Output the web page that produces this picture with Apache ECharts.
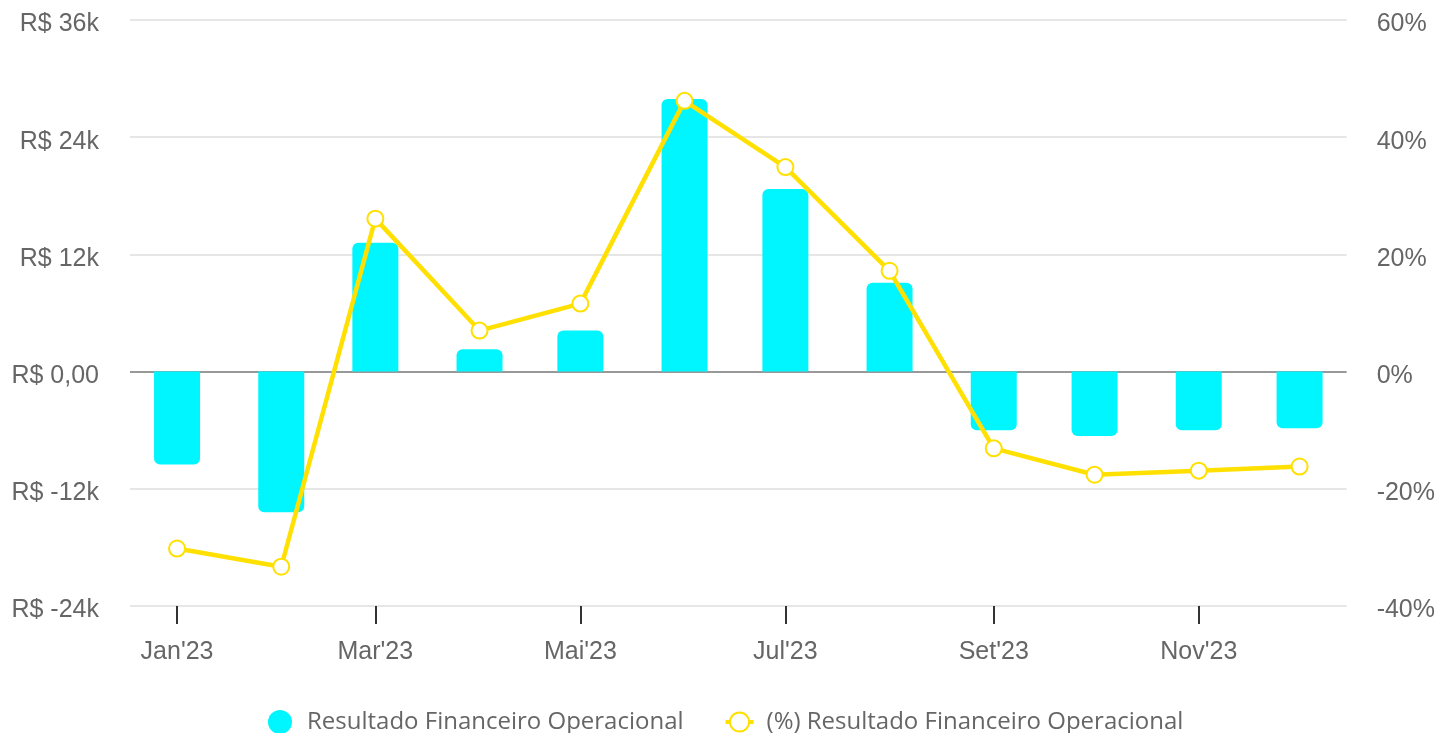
<!DOCTYPE html>
<html>
<head>
<meta charset="utf-8">
<script src="https://cdn.jsdelivr.net/npm/echarts@6/dist/echarts.min.js"></script>
<style>
  html, body { margin: 0; padding: 0; background: #fff; }
  #chart { width: 1438px; height: 733px; }
</style>
</head>
<body>
<div id="chart"></div>
<script>
// datas (inicio de cada mes)
var meses = ['2023-01-01', '2023-02-01', '2023-03-01', '2023-04-01', '2023-05-01', '2023-06-01',
	'2023-07-01', '2023-08-01', '2023-09-01', '2023-10-01', '2023-11-01', '2023-12-01'];
var resultado = [-9500, -14400, 13200, 2300, 4200, 27900, 18700, 9100, -6000, -6600, -6000, -5800];
var percentual = [-30.2, -33.3, 26.1, 7.0, 11.6, 46.2, 34.9, 17.2, -13.1, -17.6, -16.9, -16.2];
var rotulosMes = ['Jan', 'Fev', 'Mar', 'Abr', 'Mai', 'Jun', 'Jul', 'Ago', 'Set', 'Out', 'Nov', 'Dez'];
var marcasX = ['2023-01-01', '2023-03-01', '2023-05-01', '2023-07-01', '2023-09-01', '2023-11-01'];

function toTime(str) {
	var p = str.split('-');
	return new Date(+p[0], +p[1] - 1, +p[2]).getTime();
}

var ResultadoChart = {
	drawChart : function() {
		var barData = [];
		var lineData = [];
		for (var i = 0; i < meses.length; i++) {
			var v = resultado[i];
			barData.push({
				value: [toTime(meses[i]), v],
				itemStyle: { borderRadius: v >= 0 ? [6, 6, 0, 0] : [0, 0, 6, 6] }
			});
			lineData.push([toTime(meses[i]), percentual[i]]);
		}
		var ticks = marcasX.map(toTime);
		var corTexto = '#666666';
		// rotulo um pouco abaixo da linha, como no original
		var richY = {
			a: { color: corTexto, fontSize: 25, fontFamily: 'Liberation Sans', lineHeight: 34, verticalAlign: 'bottom' }
		};

		var myChart = echarts.init(document.getElementById('chart'));
		var option = {
			animation: false,
			grid: { left: 130, right: 91, top: 20, bottom: 127 },
			legend: {
				left: 263,
				top: 705,
				itemWidth: 28,
				itemHeight: 24,
				itemGap: 40,
				textStyle: { color: corTexto, fontSize: 24, fontFamily: 'Open Sans', padding: [0, 0, 0, 8] },
				data: [
					{ name: 'Resultado Financeiro Operacional', icon: 'circle' },
					{
						name: '(%) Resultado Financeiro Operacional',
						lineStyle: { width: 4 },
						itemStyle: { borderWidth: 3 }
					}
				]
			},
			xAxis: {
				type: 'value',
				min: toTime('2022-12-18'),
				max: toTime('2023-12-15'),
				axisLine: { show: false, onZero: false },
				splitLine: { show: false },
				axisTick: {
					show: true,
					customValues: ticks,
					length: 18,
					lineStyle: { color: '#333', width: 2 }
				},
				axisLabel: {
					customValues: ticks,
					margin: 34,
					color: corTexto,
					fontSize: 25,
					fontFamily: 'Liberation Sans',
					formatter: function(val) {
						var d = new Date(val);
						return rotulosMes[d.getMonth()] + "'" + String(d.getFullYear()).slice(2);
					}
				}
			},
			yAxis: [{
				type: 'value',
				min: -24000,
				max: 36000,
				interval: 12000,
				axisLine: { show: false },
				axisTick: { show: false },
				splitLine: {
					lineStyle: {
						width: 2,
						color: ['#e6e6e6', '#e6e6e6', '#999999', '#e6e6e6', '#e6e6e6', '#e6e6e6']
					}
				},
				axisLabel: {
					margin: 31,
					rich: richY,
					formatter: function(v) {
						if (v === 0) {
							return '{a|R$ 0,00}';
						}
						return '{a|R$ ' + (v / 1000) + 'k}';
					}
				}
			}, {
				type: 'value',
				min: -40,
				max: 60,
				interval: 20,
				axisLine: { show: false },
				axisTick: { show: false },
				splitLine: { show: false },
				axisLabel: {
					margin: 30,
					rich: richY,
					formatter: '{a|{value}%}'
				}
			}],
			series: [{
				name: 'Resultado Financeiro Operacional',
				type: 'bar',
				barWidth: 46,
				yAxisIndex: 0,
				itemStyle: { color: '#00f6ff' },
				data: barData
			}, {
				name: '(%) Resultado Financeiro Operacional',
				type: 'line',
				yAxisIndex: 1,
				symbol: 'emptyCircle',
				symbolSize: 16,
				itemStyle: { color: '#ffe000', borderWidth: 4 },
				lineStyle: { color: '#ffe000', width: 4.5 },
				data: lineData
			}]
		};
		myChart.setOption(option);
	}
};

ResultadoChart.drawChart();
</script>
</body>
</html>
